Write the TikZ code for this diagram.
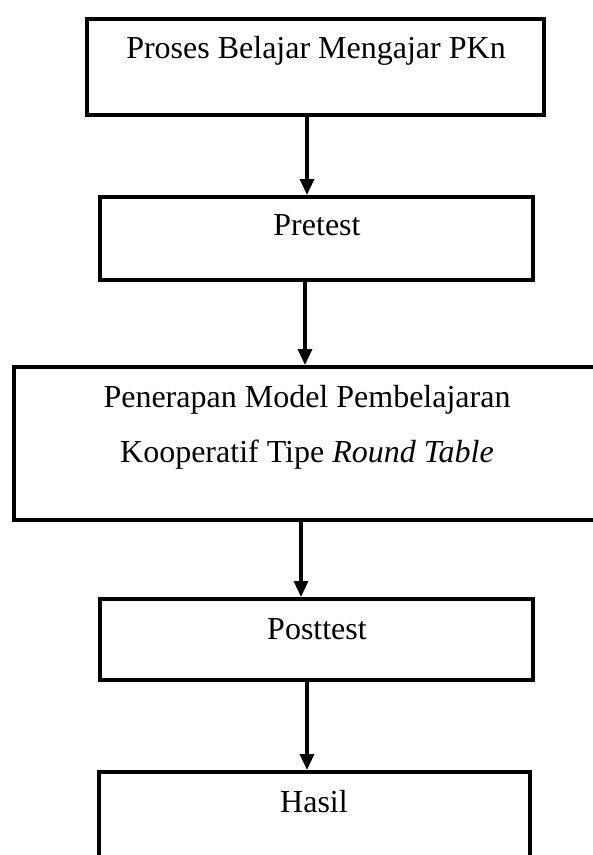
\documentclass[tikz,border=0pt]{standalone}
\usepackage{fontspec}
\setmainfont{Liberation Serif}
\usetikzlibrary{arrows.meta,positioning}

\begin{document}
\begin{tikzpicture}[x=1pt,y=-1pt]
    \tikzstyle{every node}+=[inner sep=0pt]
    \tikzstyle{box}=[draw, rectangle, line width=4pt]
    \tikzstyle{lbl}=[anchor=base, font=\fontsize{32}{55}\selectfont]
    \tikzstyle{arr}=[line width=3.2pt, -{Triangle[length=16pt,width=14pt]}]
    \useasboundingbox (0,0) rectangle (593,855);
    \fill [white] (0,0) rectangle (593,855);
    % kotak
    \node [box, minimum width=457pt, minimum height=96pt] (proses) at (315.5,67) {};
    \node [box, minimum width=433pt, minimum height=83pt] (pretest) at (316.5,238.5) {};
    \node [box, minimum width=596pt, minimum height=153pt] (model) at (312,443.5) {};
    \node [box, minimum width=433pt, minimum height=81pt] (posttest) at (316.5,639.5) {};
    \node [box, minimum width=431pt, minimum height=128pt] (hasil) at (314.5,836) {};
    % teks
    \node [lbl] (tproses) at (316,58) {Proses Belajar Mengajar PKn};
    \node [lbl] (tpretest) at (317,235) {Pretest};
    \node [lbl] (tmodela) at (307,407) {Penerapan Model Pembelajaran};
    \node [lbl] (tmodelb) at (307,462) {Kooperatif Tipe \textit{Round Table}};
    \node [lbl] (tposttest) at (317,639) {Posttest};
    \node [lbl] (thasil) at (314,812) {Hasil};
    % panah
    \draw [arr] ([xshift=-8.5pt]proses.south) -- ([xshift=-8.5pt]proses.south |- pretest.north);
    \draw [arr] ([xshift=-11.5pt]pretest.south) -- ([xshift=-11.5pt]pretest.south |- model.north);
    \draw [arr] ([xshift=-11pt]model.south) -- ([xshift=-11pt]model.south |- posttest.north);
    \draw [arr] ([xshift=-9.5pt]posttest.south) -- ([xshift=-9.5pt]posttest.south |- hasil.north);
\end{tikzpicture}
\end{document}
